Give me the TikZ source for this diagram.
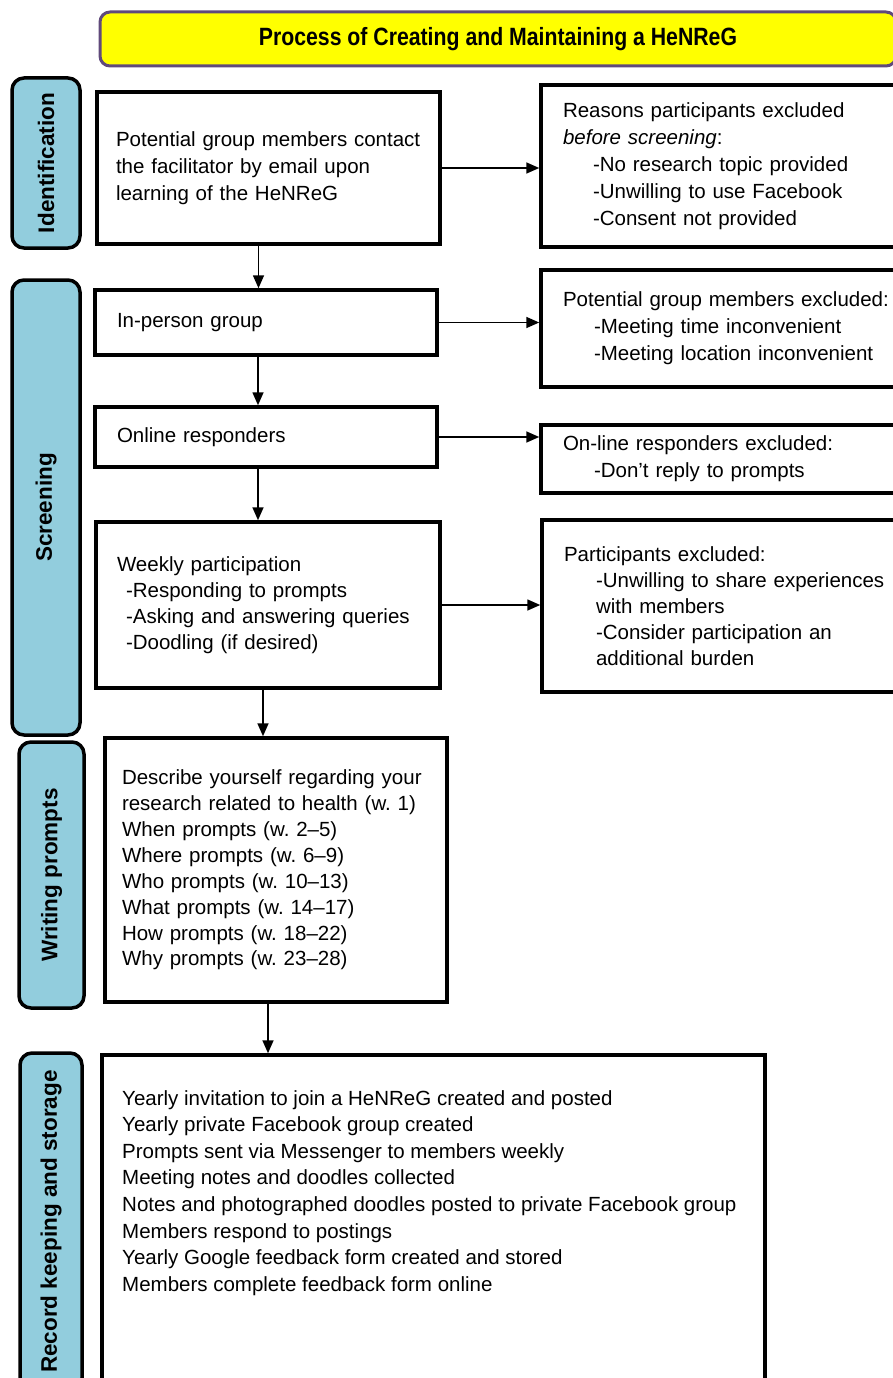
\documentclass[tikz,border=0pt]{standalone}
\usepackage{fontspec}
\setmainfont{Liberation Sans}
\newfontfamily\titlefont[FakeStretch=0.85]{Liberation Sans}
\usetikzlibrary{shapes}
\usetikzlibrary{arrows.meta}
\definecolor{stageblue}{RGB}{146,205,221}
\definecolor{titleyellow}{RGB}{255,255,0}
\definecolor{titleedge}{RGB}{96,74,123}
\frenchspacing

\begin{document}
\begin{tikzpicture}[x=1pt,y=-1pt,
  stagebox/.style={draw, line width=3.5pt, rounded corners=12pt, fill=stageblue, rotate=90, inner sep=0pt, font=\fontsize{22.5}{26}\selectfont\bfseries},
  flowbox/.style={draw, line width=3.5pt, align=left, inner ysep=0pt, font=\fontsize{20.5}{27}\selectfont},
  sidebox/.style={flowbox, inner xsep=22pt, text width=327pt, minimum width=371pt},
  textblock/.style={align=left, inner sep=0pt, font=\fontsize{20.5}{26.6}\selectfont},
  flow/.style={line width=1.6pt, -{Triangle[length=13pt,width=11pt]}}]
\useasboundingbox (0,0) rectangle (893,1378);

\node[draw=titleedge, line width=3pt, rounded corners=10pt, fill=titleyellow, minimum width=796pt, minimum height=54pt, font=\titlefont\bfseries\fontsize{25}{30}\selectfont] (title) at (498,39) {Process of Creating and Maintaining a HeNReG};

\node[stagebox, minimum width=170pt, minimum height=68pt] (ident) at (46,163) {Identification};
\node[stagebox, minimum width=455pt, minimum height=68pt] (screen) at (46,507.5) {Screening};
\node[stagebox, minimum width=266pt, minimum height=65pt] (prompts) at (51.5,875) {Writing prompts};
\node[stagebox, minimum width=337pt, minimum height=62pt] (records) at (51,1221.5) {Record keeping and storage};

\node[flowbox, inner xsep=19pt, text width=305pt, minimum height=152pt] (contact) at (268.5,168) {Potential group members contact\\the facilitator by email upon\\learning of the HeNReG};
\node[flowbox, inner xsep=22pt, text width=298pt, minimum height=65pt] (inperson) at (266,322.5) {In-person group};
\node[flowbox, inner xsep=22pt, text width=298pt, minimum height=60pt] (online) at (266,437) {Online responders};
\node[flowbox, inner xsep=21pt, text width=302pt, minimum height=166pt, font=\fontsize{20.5}{26}\selectfont] (weekly) at (268,605) {Weekly participation\\\hspace*{9pt}-Responding to prompts\\\hspace*{9pt}-Asking and answering queries\\\hspace*{9pt}-Doodling (if desired)};
\node[flowbox, inner xsep=17pt, text width=308pt, minimum height=264pt, font=\fontsize{20.5}{25.9}\selectfont] (topics) at (276,870) {Describe yourself regarding your\\research related to health (w. 1)\\When prompts (w. 2–5)\\Where prompts (w. 6–9)\\Who prompts (w. 10–13)\\What prompts (w. 14–17)\\How prompts (w. 18–22)\\Why prompts (w. 23–28)};
\node[flowbox, minimum width=663pt, minimum height=340pt] (store) at (433.5,1225) {};
\node[textblock, anchor=north west] (storetext) at (122,1090) {Yearly invitation to join a HeNReG created and posted\\Yearly private Facebook group created\\Prompts sent via Messenger to members weekly\\Meeting notes and doodles collected\\Notes and photographed doodles posted to private Facebook group\\Members respond to postings\\Yearly Google feedback form created and stored\\Members complete feedback form online};

\node[sidebox, minimum height=162pt] (prescreen) at (726.5,166) {Reasons participants excluded\\\textit{before screening}:\\\hspace*{30pt}-No research topic provided\\\hspace*{30pt}-Unwilling to use Facebook\\\hspace*{30pt}-Consent not provided};
\node[sidebox, minimum height=117pt] (meetout) at (726.5,328.5) {Potential group members excluded:\\\hspace*{31pt}-Meeting time inconvenient\\\hspace*{31pt}-Meeting location inconvenient};
\node[sidebox, minimum height=68pt] (onlineout) at (726.5,459) {On-line responders excluded:\\\hspace*{31pt}-Don’t reply to prompts};
\node[sidebox, minimum height=172pt, font=\fontsize{20.5}{26}\selectfont] (weeklyout) at (727.5,606) {Participants excluded:\\\hspace*{32pt}-Unwilling to share experiences\\\hspace*{32pt}with members\\\hspace*{32pt}-Consider participation an\\\hspace*{32pt}additional burden};

\draw[flow] ([xshift=-10pt]contact.south) -- ([xshift=-10pt]contact.south |- inperson.north);
\draw[flow] ([xshift=-8pt]inperson.south) -- ([xshift=-8pt]inperson.south |- online.north);
\draw[flow] ([xshift=-8pt]online.south) -- ([xshift=-8pt]online.south |- weekly.north);
\draw[flow] ([xshift=-5pt]weekly.south) -- ([xshift=-5pt]weekly.south |- topics.north);
\draw[flow] ([xshift=-8pt]topics.south) -- ([xshift=-8pt]topics.south |- store.north);

\draw[flow] (contact.east) -- (contact.east -| prescreen.west);
\draw[flow] (inperson.east) -- (inperson.east -| meetout.west);
\draw[flow] (online.east) -- (online.east -| onlineout.west);
\draw[flow] (weekly.east) -- (weekly.east -| weeklyout.west);
\end{tikzpicture}
\end{document}
